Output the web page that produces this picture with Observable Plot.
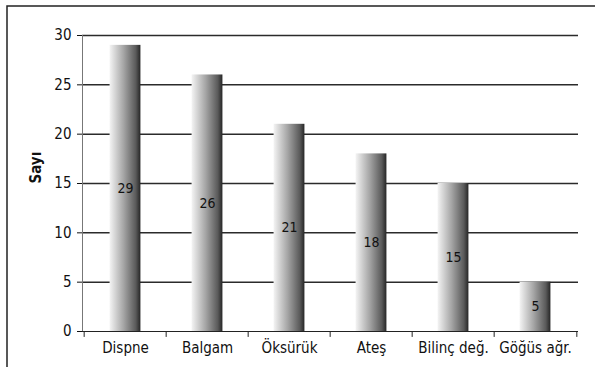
<!DOCTYPE html>
<html>
<head>
<meta charset="utf-8">
<script src="https://cdn.jsdelivr.net/npm/d3@7"></script>
<script src="https://cdn.jsdelivr.net/npm/@observablehq/plot@0.6"></script>
<style>
  html, body { margin: 0; padding: 0; background: #fff; }
  #chart svg { display: block; }
</style>
</head>
<body>
<div id="chart"></div>
<script>
// Symptom counts
const symptoms = ["Dispne", "Balgam", "Öksürük", "Ateş", "Bilinç değ.", "Göğüs ağr."];
const counts = [29, 26, 21, 18, 15, 5];
const yTicks = [0, 5, 10, 15, 20, 25, 30];
const yLabel = "Sayı";

const rows = symptoms.map((s, i) => ({symptom: s, count: counts[i]}));

const W = 595, H = 367;
const margin = {left: 82, right: 17, top: 35, bottom: 36};
const step = (W - margin.left - margin.right) / symptoms.length;
const barWidth = 31.5;
const inset = (step - barWidth) / 2;
const font = "'Liberation Sans Narrow', 'DejaVu Sans Condensed', Roboto, sans-serif";

const chart = Plot.plot({
  width: W,
  height: H,
  marginLeft: margin.left,
  marginRight: margin.right,
  marginTop: margin.top,
  marginBottom: margin.bottom,
  style: {fontFamily: font, fontStretch: "condensed", fontSize: "15px", color: "#111", background: "#fff"},
  x: {domain: symptoms, padding: 0, label: null},
  y: {domain: [0, 30], label: null},
  marks: [
    // horizontal gridlines
    Plot.ruleY(yTicks.filter(d => d > 0), {stroke: "#2b2b2b", strokeWidth: 1.5}),
    // bars with a left-to-right shading
    Plot.barY(rows, {x: "symptom", y: "count", fill: "url(#barShade)", insetLeft: inset, insetRight: inset}),
    // value labels in the middle of each bar
    Plot.text(rows, {x: "symptom", y: d => d.count / 2, text: d => String(d.count),
      fontSize: 14, fill: "#111"}),
    // axes
    Plot.frame({anchor: "left", stroke: "#777"}),
    Plot.ruleY([0], {stroke: "#222", strokeWidth: 1.2}),
    Plot.axisY({ticks: yTicks, tickSize: 5, tickPadding: 6, tickFormat: d => d, fontSize: 15}),
    Plot.axisX({tickSize: 0, tickPadding: 11, fontSize: 15}),
    // category separator ticks below the x axis
    Plot.ruleX(symptoms, {x: d => d, dx: -step / 2, y1: 0, y2: -0.6, stroke: "#222"}),
    Plot.ruleX(symptoms.slice(-1), {x: d => d, dx: step / 2, y1: 0, y2: -0.6, stroke: "#222"}),
    // y axis title
    Plot.text([yLabel], {frameAnchor: "left", dx: -46, rotate: -90, text: d => d,
      fontWeight: "bold", fontSize: 15, fill: "#111"})
  ]
});

// gradient definition for the bars, plus the outer border
const svg = d3.select(chart);
const grad = svg.insert("defs", ":first-child").append("linearGradient")
  .attr("id", "barShade").attr("x1", "0").attr("x2", "1").attr("y1", "0").attr("y2", "0");
[[0, "#f4f4f4"], [0.45, "#a6a6a6"], [0.85, "#5a5a5a"], [1, "#262626"]].forEach(([o, c]) =>
  grad.append("stop").attr("offset", o).attr("stop-color", c));

svg.append("rect")
  .attr("x", 7).attr("y", 6).attr("width", 620).attr("height", 400)
  .attr("fill", "none").attr("stroke", "#222").attr("stroke-width", 1.5);

document.getElementById("chart").appendChild(chart);
</script>
</body>
</html>
